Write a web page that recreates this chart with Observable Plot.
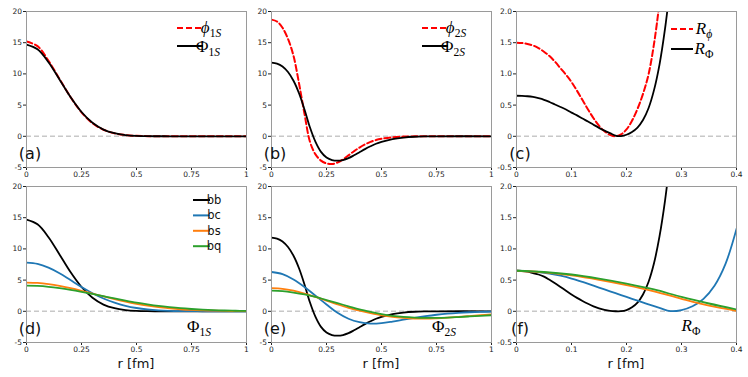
<!DOCTYPE html>
<html><head><meta charset="utf-8">
<script src="https://cdn.jsdelivr.net/npm/d3@7"></script>
<script src="https://cdn.jsdelivr.net/npm/@observablehq/plot@0.6"></script>
<style>
body{margin:0;background:#fff;}
#fig{position:relative;width:748px;height:377px;overflow:hidden;background:#fff}
#fig>div{position:absolute}
</style></head><body><div id="fig"></div>
<script>
// ---------- data ----------
const rWide = [0,0.05,0.1,0.15,0.2,0.25,0.3,0.35,0.4,0.45,0.5,0.55,0.6,0.65,0.7,0.75,0.8,0.85,0.9,0.95,1];
const rFine = [0,0.025,0.05,0.075,0.1,0.125,0.15,0.175,0.2,0.225,0.25,0.275,0.3,0.325,0.35,0.375,0.4,0.425,0.45,0.475,0.5,0.55,0.6,0.65,0.7,0.75,1];
const rR = [0,0.01,0.02,0.03,0.04,0.05,0.06,0.07,0.08,0.09,0.1,0.11,0.12,0.13,0.14,0.15,0.16,0.17,0.18,0.19,0.2,0.21,0.22,0.23,0.24,0.25,0.26,0.27,0.28];
const rR2 = [0,0.02,0.04,0.06,0.08,0.1,0.12,0.14,0.16,0.18,0.2,0.22,0.24,0.26,0.28,0.3,0.32,0.34,0.36,0.38,0.4];
const rR5 = [0,0.05,0.1,0.15,0.2,0.25,0.3,0.35,0.4];

// (a)
const phi1S = [15.2,14.45,12.1,9.2,6.3,3.85,2.1,1.05,0.48,0.2,0.07,0.02,0,0,0,0,0,0,0,0,0];
const Phi1S_bb = [14.7,13.94,11.88,9.11,6.28,3.89,2.17,1.08,0.49,0.2,0.07,0.02,0.01,0,0,0,0,0,0,0,0];
// (b)
const phi2S = [18.7,18.4,17.4,15.6,12.9,8.5,3.6,-0.9,-2.9,-3.9,-4.35,-4.45,-4.2,-3.7,-3.05,-2.4,-1.8,-1.3,-0.9,-0.6,-0.4,-0.15,-0.05,-0.01,0,0,0];
const Phi2S_bb = [11.8,11.65,11.2,10.3,8.9,6.9,4.3,1.4,-0.9,-2.5,-3.4,-3.8,-3.9,-3.8,-3.5,-3.05,-2.55,-2.05,-1.6,-1.2,-0.9,-0.45,-0.2,-0.07,-0.02,0,0];
// (c)
const Rphi = [1.5,1.495,1.48,1.455,1.415,1.355,1.285,1.195,1.09,0.985,0.87,0.73,0.58,0.43,0.29,0.17,0.08,0.022,0.0,0.03,0.11,0.25,0.44,0.68,0.99,1.48,2.15,3.0,3.9];
const RPhi = [0.65,0.648,0.642,0.63,0.61,0.585,0.55,0.51,0.47,0.43,0.38,0.335,0.285,0.237,0.185,0.135,0.09,0.05,0.012,0.004,0.025,0.07,0.14,0.26,0.45,0.74,1.15,1.72,2.45];
// (d)
const Phi1S_bc = [7.8,7.6,7.0,6.1,5.0,3.9,2.9,2.05,1.38,0.88,0.53,0.3,0.16,0.08,0.04,0.02,0.01,0,0,0,0];
const Phi1S_bs = [4.6,4.54,4.36,4.08,3.71,3.29,2.84,2.38,1.95,1.55,1.2,0.9,0.66,0.48,0.33,0.22,0.15,0.095,0.06,0.035,0.02];
const Phi1S_bq = [4.1,4.06,3.93,3.72,3.45,3.13,2.78,2.42,2.06,1.72,1.4,1.12,0.87,0.67,0.5,0.37,0.26,0.18,0.13,0.085,0.055];
// (e)
const Phi2S_bc = [6.3,5.95,5.1,3.9,2.5,1.1,-0.25,-1.2,-1.75,-1.98,-1.9,-1.65,-1.35,-1.05,-0.78,-0.55,-0.37,-0.24,-0.15,-0.09,-0.05];
const Phi2S_bs = [3.7,3.6,3.3,2.85,2.3,1.7,1.1,0.55,0.1,-0.3,-0.65,-0.9,-1.05,-1.15,-1.18,-1.12,-1.02,-0.9,-0.76,-0.62,-0.5];
const Phi2S_bq = [3.3,3.22,3.0,2.7,2.3,1.8,1.3,0.8,0.3,-0.1,-0.45,-0.72,-0.9,-1.0,-1.05,-1.05,-1.0,-0.92,-0.82,-0.72,-0.63];
// (f)
const R_bb = [0.65,0.646,0.634,0.612,0.59,0.555,0.505,0.45,0.39,0.33,0.27,0.215,0.165,0.12,0.08,0.048,0.024,0.008,0.001,0.002,0.02,0.065,0.14,0.27,0.47,0.77,1.2,1.77,2.5];
const R_bc = [0.65,0.645,0.63,0.605,0.57,0.525,0.47,0.41,0.35,0.29,0.23,0.17,0.11,0.055,0.003,0.02,0.08,0.2,0.41,0.76,1.32];
const R_bs = [0.65,0.625,0.575,0.505,0.42,0.32,0.2,0.09,0.008];
const R_bq = [0.65,0.63,0.59,0.525,0.445,0.35,0.23,0.125,0.03];

// ticks and labels
const xTicksPhi = [0,0.25,0.5,0.75,1];
const yTicksPhi = [-5,0,5,10,15,20];
const xTicksR = [0,0.1,0.2,0.3,0.4];
const yTicksR = [-0.5,0,0.5,1.0,1.5,2.0];
const panelLetters = ["(a)","(b)","(c)","(d)","(e)","(f)"];
const flavours = ["bb","bc","bs","bq"];
const flavourColors = ["#000000","#1f77b4","#ff7f0e","#2ca02c"];
const xLabel = "r [fm]";

// ---------- helpers ----------
const fig = document.getElementById("fig");
function line(xs, ys, stroke, opts = {}) {
  return Plot.line(xs.map((x, i) => ({x, y: ys[i]})),
    {x: "x", y: "y", stroke, strokeWidth: 1.8, curve: "catmull-rom", clip: true, ...opts});
}
const fmtPhiX = d => String(d);
const fmtPhiY = d => String(d);
const fmtRY = d => d === 0 ? "0" : d.toFixed(1);

function panel(kind, bottom, lines, left, top) {
  const isR = kind === "R";
  const height = bottom ? 202 : 190;
  const svg = Plot.plot({
    width: 248, height,
    marginLeft: 26, marginRight: 2, marginTop: 11, marginBottom: bottom ? 35 : 23,
    x: {domain: isR ? [0, 0.4] : [0, 1], ticks: isR ? xTicksR : xTicksPhi, tickFormat: fmtPhiX,
        tickSize: 3, tickPadding: 1.5, label: null},
    y: {domain: isR ? [-0.5, 2] : [-5, 20], ticks: isR ? yTicksR : yTicksPhi,
        tickFormat: isR ? fmtRY : fmtPhiY, tickSize: 3, tickPadding: 1.5, label: null},
    style: {fontFamily: "DejaVu Sans", fontSize: "7.5px", color: "#222", background: "transparent", overflow: "visible"},
    marks: [
      Plot.ruleY([0], {stroke: "#c8c8c8", strokeWidth: 1.5, strokeDasharray: "5,3"}),
      ...lines,
      Plot.frame({stroke: "#9a9a9a"})
    ]
  });
  const div = document.createElement("div");
  div.style.left = left + "px";
  div.style.top = top + "px";
  div.appendChild(svg);
  fig.appendChild(div);
  return svg;
}

function mathText(svg, x, y, parts, size = 17) {
  const t = d3.select(svg).append("text").attr("x", x).attr("y", y)
    .attr("font-family", "'Liberation Serif', 'DejaVu Serif', serif").attr("font-size", size).attr("fill", "#000");
  let inSub = false;
  for (const p of parts) {
    const ts = t.append("tspan").text(p.t);
    if (p.it) ts.attr("font-style", "italic");
    if (p.sub) {
      ts.attr("font-size", size * 0.68);
      if (!inSub) { ts.attr("dy", size * 0.24); inSub = true; }
    }
  }
}
function swatch(svg, x1, x2, y, stroke, dash) {
  const l = d3.select(svg).append("line").attr("x1", x1).attr("x2", x2).attr("y1", y).attr("y2", y)
    .attr("stroke", stroke).attr("stroke-width", 2);
  if (dash) l.attr("stroke-dasharray", dash);
}
function letter(svg, s) {
  d3.select(svg).append("text").attr("x", 30).attr("y", 159).attr("font-family", "DejaVu Sans")
    .attr("font-size", 16).attr("fill", "#111").text(s);
}
function xlab(svg) {
  d3.select(svg).append("text").attr("x", 136).attr("y", 193).attr("text-anchor", "middle")
    .attr("font-family", "DejaVu Sans").attr("font-size", 13).attr("fill", "#111").text(xLabel);
}
const DASH = "6,3";

// ---------- (a) ----------
let s = panel("Phi", false, [
  line(rWide, phi1S, "#ff0000", {strokeDasharray: DASH, strokeWidth: 2}),
  line(rWide, Phi1S_bb, "#000")
], 0, 0);
swatch(s, 177, 203, 28, "#ff0000", DASH);
mathText(s, 211, 33, [{t: "ϕ", it: true}, {t: "1", sub: true}, {t: "S", sub: true, it: true}]);
swatch(s, 177, 203, 46, "#000");
mathText(s, 208, 52, [{t: "Φ"}, {t: "1", sub: true}, {t: "S", sub: true, it: true}]);
letter(s, panelLetters[0]);

// ---------- (b) ----------
s = panel("Phi", false, [
  line(rFine, phi2S, "#ff0000", {strokeDasharray: DASH, strokeWidth: 2}),
  line(rFine, Phi2S_bb, "#000")
], 245, 0);
swatch(s, 177, 203, 28, "#ff0000", DASH);
mathText(s, 211, 33, [{t: "ϕ", it: true}, {t: "2", sub: true}, {t: "S", sub: true, it: true}]);
swatch(s, 177, 203, 46, "#000");
mathText(s, 208, 52, [{t: "Φ"}, {t: "2", sub: true}, {t: "S", sub: true, it: true}]);
letter(s, panelLetters[1]);

// ---------- (c) ----------
s = panel("R", false, [
  line(rR, Rphi, "#ff0000", {strokeDasharray: DASH, strokeWidth: 2}),
  line(rR, RPhi, "#000")
], 490, 0);
swatch(s, 181, 203, 29, "#ff0000", DASH);
mathText(s, 214, 34, [{t: "R", it: true}, {t: "ϕ", sub: true, it: true}]);
swatch(s, 181, 203, 49, "#000");
mathText(s, 214, 54, [{t: "R", it: true}, {t: "Φ", sub: true}]);
letter(s, panelLetters[2]);

// ---------- (d) ----------
const series1S = [Phi1S_bb, Phi1S_bc, Phi1S_bs, Phi1S_bq];
s = panel("Phi", true, series1S.map((ys, i) => line(rWide, ys, flavourColors[i])), 0, 175);
flavours.forEach((f, i) => {
  const y = 25 + i * 15.4;
  swatch(s, 193, 210, y, flavourColors[i]);
  d3.select(s).append("text").attr("x", 214).attr("y", y + 4).attr("font-family", "DejaVu Sans")
    .attr("font-size", 11.5).attr("fill", "#111").text(f);
});
mathText(s, 199, 157, [{t: "Φ"}, {t: "1", sub: true}, {t: "S", sub: true, it: true}]);
letter(s, panelLetters[3]);
xlab(s);

// ---------- (e) ----------
s = panel("Phi", true, [
  line(rFine, Phi2S_bb, flavourColors[0]),
  line(rWide, Phi2S_bc, flavourColors[1]),
  line(rWide, Phi2S_bs, flavourColors[2]),
  line(rWide, Phi2S_bq, flavourColors[3])
], 245, 175);
mathText(s, 199, 157, [{t: "Φ"}, {t: "2", sub: true}, {t: "S", sub: true, it: true}]);
letter(s, panelLetters[4]);
xlab(s);

// ---------- (f) ----------
s = panel("R", true, [
  line(rR, R_bb, flavourColors[0]),
  line(rR2, R_bc, flavourColors[1]),
  line(rR5, R_bs, flavourColors[2]),
  line(rR5, R_bq, flavourColors[3])
], 490, 175);
mathText(s, 201, 156, [{t: "R", it: true}, {t: "Φ", sub: true}]);
letter(s, panelLetters[5]);
xlab(s);
</script></body></html>
